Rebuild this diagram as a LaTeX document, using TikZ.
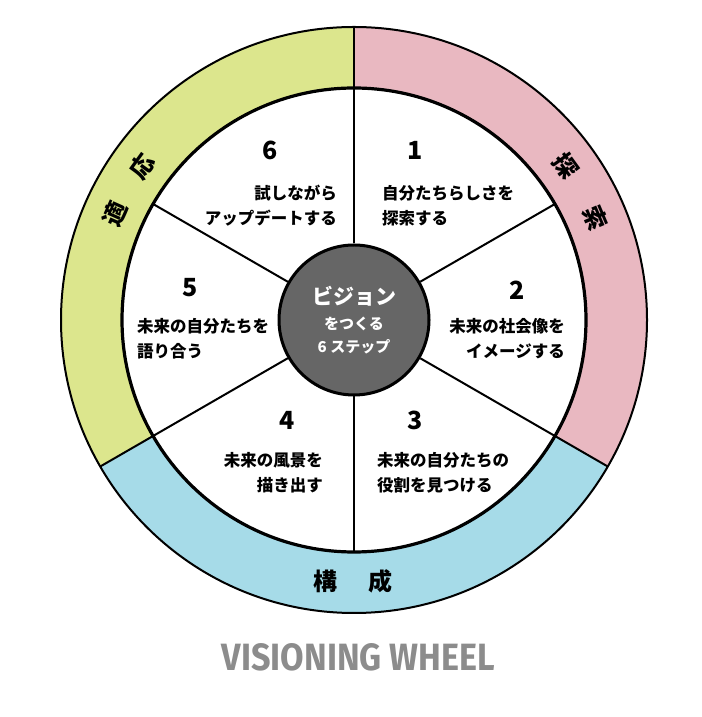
\documentclass[tikz,border=0pt]{standalone}
\usepackage{fontspec}
\setmainfont{Noto Sans CJK JP}
\newfontfamily\titlefont{Fira Sans}
\usetikzlibrary{calc}

\definecolor{ringpink}{RGB}{233,184,193}
\definecolor{ringblue}{RGB}{166,219,232}
\definecolor{ringgreen}{RGB}{220,230,141}
\definecolor{visiongray}{RGB}{102,102,102}
\definecolor{titlegray}{RGB}{140,140,140}

\begin{document}
\begin{tikzpicture}[x=1pt,y=1pt,
    num/.style={font=\bfseries\fontsize{25}{25}\selectfont, inner sep=0},
    stepl/.style={font=\bfseries\fontsize{16.5}{25}\selectfont, inner sep=0, anchor=west, align=left},
    stepr/.style={font=\bfseries\fontsize{16.5}{25}\selectfont, inner sep=0, anchor=east, align=right},
    ringchar/.style={font=\bfseries\fontsize{24}{24}\selectfont, inner sep=0}]

    \useasboundingbox (0,0) rectangle (701,717);
    \coordinate (c) at (354,397);

    % outer ring
    \fill[ringpink]  (c) -- ++(90:293)  arc[start angle=90,  end angle=-30, radius=293] -- cycle;
    \fill[ringblue]  (c) -- ++(-30:293) arc[start angle=-30, end angle=-150, radius=293] -- cycle;
    \fill[ringgreen] (c) -- ++(210:293) arc[start angle=210, end angle=90,  radius=293] -- cycle;
    \draw[line width=2pt] (c) circle[radius=293];
    \filldraw[fill=white, line width=3.2pt] (c) circle[radius=232];

    \foreach \a in {30,90,150,210,270,330}
        \coordinate (rim\a) at ($(c)+(\a:232)$);
    \foreach \a in {90,210,330}
        \coordinate (out\a) at ($(c)+(\a:293)$);

    \node[circle, draw, fill=visiongray, line width=3pt, minimum size=150pt, text=white, align=center,
          font=\bfseries\fontsize{15}{23}\selectfont] (vision) at (c)
        {{\fontsize{21}{21}\selectfont ビジョン}\\[2pt] をつくる\\ 6 ステップ};

    % spokes
    \foreach \a in {30,90,150,210,270,330}
        \draw[line width=2pt] (vision) -- (rim\a);
    \foreach \a in {90,210,330}
        \draw[line width=2pt] (rim\a) -- (out\a);

    % steps
    \node[num] (n1) at (415,567) {1};
    \node[num] (n2) at (517,427) {2};
    \node[num] (n3) at (415,297) {3};
    \node[num] (n4) at (287,297) {4};
    \node[num] (n5) at (190,429) {5};
    \node[num] (n6) at (270,567) {6};

    \node[stepl] (s1) at (382,511.5) {自分たちらしさを\\探索する};
    \node[stepr] (s2) at (565,378.5) {未来の社会像を\\イメージする};
    \node[stepl] (s3) at (377,244.5) {未来の自分たちの\\役割を見つける};
    \node[stepr] (s4) at (323,244.5) {未来の風景を\\描き出す};
    \node[stepl] (s5) at (137,378.5) {未来の自分たちを\\語り合う};
    \node[stepr] (s6) at (337,511.5) {試しながら\\アップデートする};

    % ring labels
    \node[ringchar, rotate=-54] (r1) at ($(c)+(36:262)$) {探};
    \node[ringchar, rotate=-67] (r2) at ($(c)+(23:262)$) {索};
    \node[ringchar] (r3) at ($(c)+(263.7:263)$) {構};
    \node[ringchar] (r4) at ($(c)+(275.7:263)$) {成};
    \node[ringchar, rotate=66] (r5) at ($(c)+(156:262)$) {適};
    \node[ringchar, rotate=54] (r6) at ($(c)+(144:262)$) {応};

    \node[text=titlegray, inner sep=0] (title) at (358.5,60)
        {\resizebox{273pt}{27pt}{\titlefont\bfseries VISIONING WHEEL}};
\end{tikzpicture}
\end{document}
